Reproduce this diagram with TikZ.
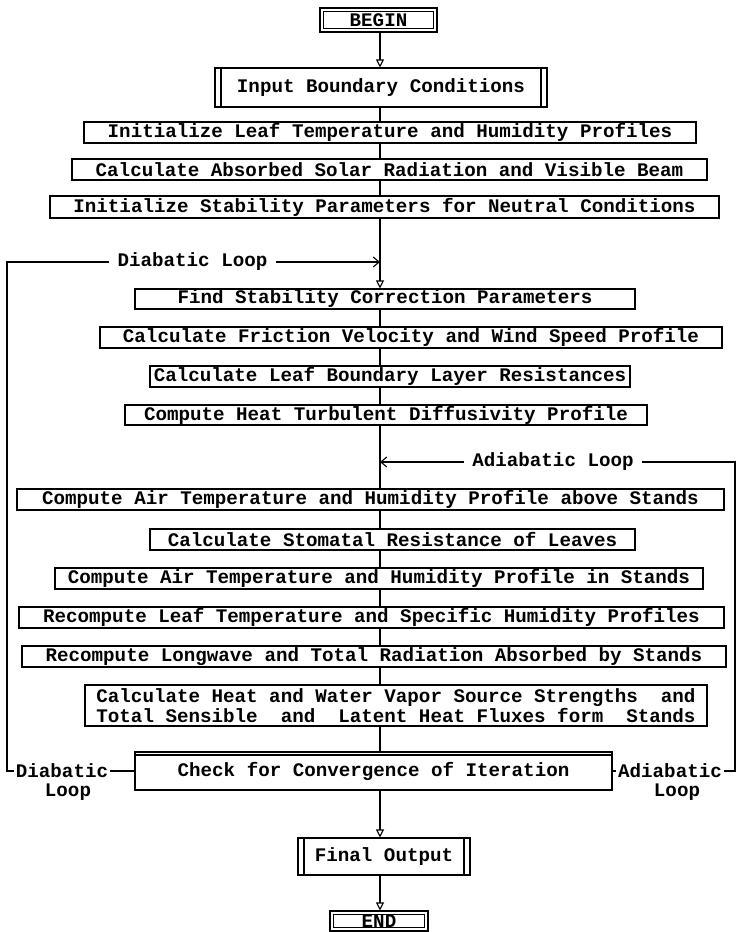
\documentclass[tikz,border=0pt]{standalone}
\usepackage{fontspec}
\setmonofont{Liberation Mono}
\usepackage{tikz}
\usetikzlibrary{arrows.meta}
\tikzset{
  pbox/.style={draw, line width=1.1pt, inner sep=0pt, align=center, font=\ttfamily\bfseries\fontsize{19.2}{20}\selectfont, minimum height=21pt},
  predef/.style={pbox, path picture={
      \draw[line width=1.1pt] ([xshift=6pt]path picture bounding box.north west) -- ([xshift=6pt]path picture bounding box.south west);
      \draw[line width=1.1pt] ([xshift=-6pt]path picture bounding box.north east) -- ([xshift=-6pt]path picture bounding box.south east);}},
  term/.style={pbox, path picture={
      \draw[line width=1.1pt] ([shift={(3.5pt,-3.5pt)}]path picture bounding box.north west) rectangle ([shift={(-3.5pt,3.5pt)}]path picture bounding box.south east);}},
  decide/.style={pbox, path picture={
      \draw[line width=1.1pt] ([yshift=-3pt]path picture bounding box.north west) -- ([yshift=-3pt]path picture bounding box.north east);}},
  looplabel/.style={font=\ttfamily\bfseries\fontsize{19.2}{20}\selectfont, inner xsep=8pt, inner ysep=0pt},
  link/.style={line width=1.1pt},
  arr/.style={link, -{Triangle[open, length=8pt, width=8pt]}},
  barb/.style={link, -{Straight Barb[length=6pt, width=10pt]}},
}
\begin{document}
\begin{tikzpicture}[x=1pt, y=-1pt]
\useasboundingbox (0,0) rectangle (741,932);
\coordinate (axis) at (380,0);
% main column
\node[term, minimum width=117pt, minimum height=24pt] (begin) at (378.5,20) {BEGIN};
\node[predef, minimum width=332pt, minimum height=39pt] (inp) at (381,87.5) {Input Boundary Conditions};
\node[pbox, minimum width=612pt] (leaf) at (390,132.5) {Initialize Leaf Temperature and Humidity Profiles};
\node[pbox, minimum width=635pt] (solar) at (389.5,169.5) {Calculate Absorbed Solar Radiation and Visible Beam};
\node[pbox, minimum width=669pt, minimum height=22pt] (stab) at (384.5,207) {Initialize Stability Parameters for Neutral Conditions};
\node[pbox, minimum width=500pt, minimum height=20pt] (find) at (385,299) {Find Stability Correction Parameters};
\node[pbox, minimum width=622pt] (fric) at (411,337.5) {Calculate Friction Velocity and Wind Speed Profile};
\node[pbox, minimum width=480pt] (bound) at (390,376.5) {Calculate Leaf Boundary Layer Resistances};
\node[pbox, minimum width=522pt, minimum height=20pt] (heat) at (386,415) {Compute Heat Turbulent Diffusivity Profile};
\node[pbox, minimum width=707pt] (above) at (370.5,499.5) {Compute Air Temperature and Humidity Profile above Stands};
\node[pbox, minimum width=485pt] (stom) at (392.5,539.5) {Calculate Stomatal Resistance of Leaves};
\node[pbox, minimum width=648pt] (instd) at (379,578.5) {Compute Air Temperature and Humidity Profile in Stands};
\node[pbox, minimum width=705pt] (recl) at (371.5,617.5) {Recompute Leaf Temperature and Specific Humidity Profiles};
\node[pbox, minimum width=704pt] (lwave) at (374,656.5) {Recompute Longwave and Total Radiation Absorbed by Stands};
\node[pbox, minimum width=622pt, minimum height=41pt] (src) at (396,705.5) {Calculate Heat and Water Vapor Source Strengths\ \ and\\Total Sensible\ \ and\ \ Latent Heat Fluxes form\ \ Stands};
\node[decide, minimum width=477pt, minimum height=38pt] (check) at (373.5,771) {Check for Convergence of Iteration};
\node[predef, minimum width=172pt, minimum height=37pt] (final) at (384,856.5) {Final Output};
\node[term, minimum width=98pt, minimum height=20pt] (finish) at (379,921) {END};
\foreach \a/\b in {inp/leaf, leaf/solar, solar/stab, find/fric, fric/bound, bound/heat, heat/above, above/stom, stom/instd, instd/recl, recl/lwave, lwave/src, src/check}
  \draw[link] (\a.south -| axis) -- (\b.north -| axis);
\foreach \a/\b in {begin/inp, stab/find, check/final, final/finish}
  \draw[arr] (\a.south -| axis) -- (\b.north -| axis);
% diabatic loop
\coordinate (dtop) at (7,262);
\node[looplabel] (dlab) at (192.5,262) {Diabatic Loop};
\node[looplabel, inner xsep=2pt] (dlow) at (62,771) {Diabatic};
\node[looplabel] (dloop) at (68,792) {Loop};
\draw[link] (dlab.west) -- (dtop) -- (dtop |- dlow) -- (dlow.west);
\draw[barb] (dlab.east) -- (dlab.east -| axis);
\draw[link] (dlow.east) -- (check.west);
% adiabatic loop
\coordinate (atop) at (735,462);
\node[looplabel] (alab) at (553,462) {Adiabatic Loop};
\node[looplabel, inner xsep=2pt] (alow) at (670,771) {Adiabatic};
\node[looplabel] (aloop) at (677,792) {Loop};
\draw[barb] (alab.west) -- (alab.west -| axis);
\draw[link] (alab.east) -- (atop) -- (atop |- alow) -- (alow.east);
\draw[link] (check.east) -- (alow.west);
\end{tikzpicture}
\end{document}
